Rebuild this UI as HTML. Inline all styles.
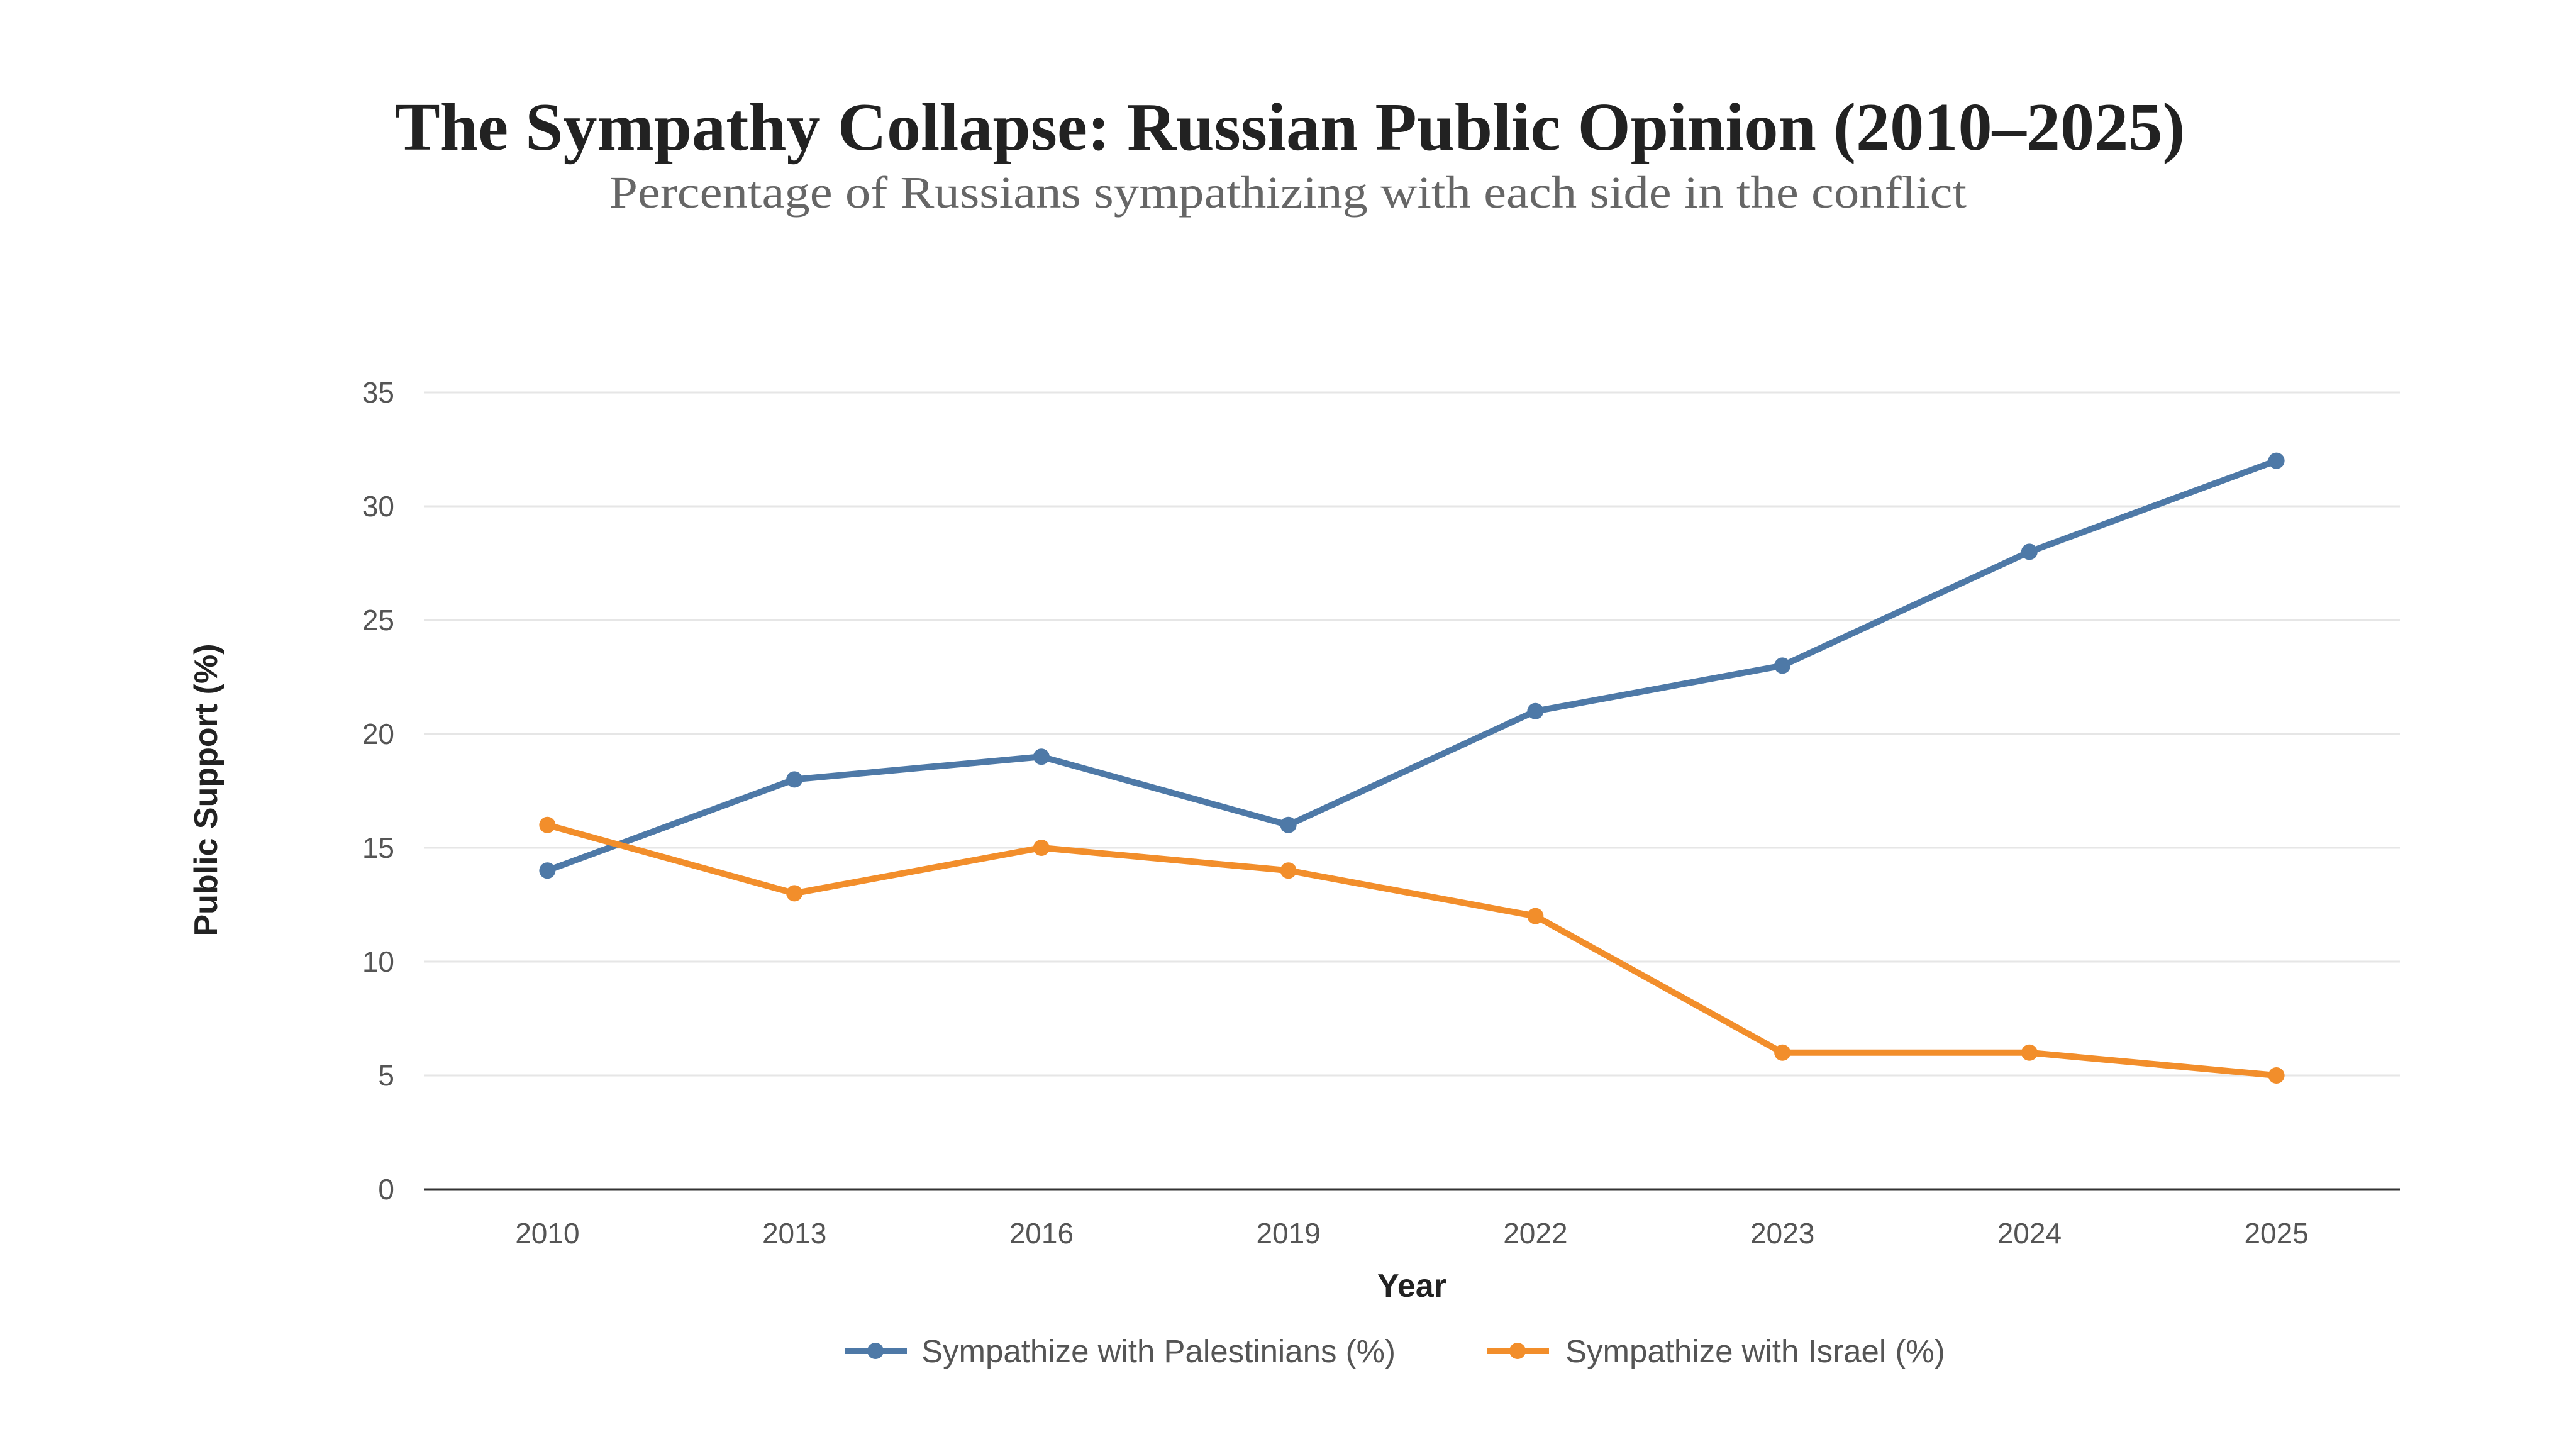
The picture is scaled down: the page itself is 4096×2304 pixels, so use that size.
<!DOCTYPE html>
<html><head><meta charset="utf-8"><style>
html,body{margin:0;padding:0;background:#fff;}
svg{display:block;}
</style></head><body>
<svg id="chart" width="4096" height="2304" viewBox="0 0 4096 2304" xmlns="http://www.w3.org/2000/svg">
<rect width="4096" height="2304" fill="#fff"/>
<text x="2051" y="238" text-anchor="middle" font-family="Liberation Serif, serif" font-weight="bold" font-size="108" fill="#222" textLength="2847" lengthAdjust="spacingAndGlyphs">The Sympathy Collapse: Russian Public Opinion (2010–2025)</text>
<text x="2048" y="330" text-anchor="middle" font-family="Liberation Serif, serif" font-size="72" fill="#666" textLength="2158" lengthAdjust="spacingAndGlyphs">Percentage of Russians sympathizing with each side in the conflict</text>
<g id="grid"></g>
<g id="series"></g>
<text x="2245" y="2062" text-anchor="middle" font-family="Liberation Sans, sans-serif" font-weight="bold" font-size="52" fill="#222">Year</text>
<text transform="translate(345,1256) rotate(-90)" text-anchor="middle" font-family="Liberation Sans, sans-serif" font-weight="bold" font-size="52" fill="#222">Public Support (%)</text>
<g>
<g>
<line x1="1343" y1="2148" x2="1442" y2="2148" stroke="#4e79a7" stroke-width="10"/>
<circle cx="1392" cy="2148" r="13" fill="#4e79a7"/>
<text x="1465" y="2166" font-family="Liberation Sans, sans-serif" font-size="51" fill="#555">Sympathize with Palestinians (%)</text>
</g>
<g>
<line x1="2364" y1="2148" x2="2463" y2="2148" stroke="#f28e2b" stroke-width="10"/>
<circle cx="2413" cy="2148" r="13" fill="#f28e2b"/>
<text x="2489" y="2166" font-family="Liberation Sans, sans-serif" font-size="51" fill="#555">Sympathize with Israel (%)</text>
</g>
</g>
</svg>
<script>
const categories = ["2010","2013","2016","2019","2022","2023","2024","2025"];
const palestinians = [14,18,19,16,21,23,28,32];
const israel = [16,13,15,14,12,6,6,5];
const yTicks = [0,5,10,15,20,25,30,35];
const NS = "http://www.w3.org/2000/svg";
const L=674,R=3816,T=624,B=1891,YMAX=35;
const band=(R-L)/categories.length;
function xs(i){return L+band*(i+0.5);}
function ys(v){return B-(v/YMAX)*(B-T);}
function mk(tag,attrs,parent){const e=document.createElementNS(NS,tag);for(const k in attrs)e.setAttribute(k,attrs[k]);parent.appendChild(e);return e;}
const grid=document.getElementById('grid');
yTicks.forEach(t=>{
  if(t>0){const g=mk('line',{x1:L,x2:R,y1:ys(t),y2:ys(t),stroke:'#e6e6e6','stroke-width':3},grid);
  
  }
  const tx=mk('text',{x:627,y:ys(t)+16,'text-anchor':'end','font-family':'Liberation Sans, sans-serif','font-size':46,fill:'#555'},grid);
  tx.textContent=t;
  
  
});
const ax=mk('line',{x1:L,x2:R,y1:B,y2:B,stroke:'#333','stroke-width':3},grid);


categories.forEach((c,i)=>{
  const tx=mk('text',{x:xs(i),y:1977,'text-anchor':'middle','font-family':'Liberation Sans, sans-serif','font-size':46,fill:'#555'},grid);
  tx.textContent=c;
  
  
});
const ser=document.getElementById('series');
[[palestinians,'#4e79a7','palestinians'],[israel,'#f28e2b','israel']].forEach(([vals,col,nm])=>{
  const g=mk('g',{},ser);
  
  
  const p=mk('polyline',{points:vals.map((v,i)=>xs(i)+','+ys(v)).join(' '),fill:'none',stroke:col,'stroke-width':10,'stroke-linejoin':'round'},g);
  
  
  vals.forEach((v,i)=>{
    const c=mk('circle',{cx:xs(i),cy:ys(v),r:13,fill:col},g);
    
    
  });
});
</script>
</body></html>
